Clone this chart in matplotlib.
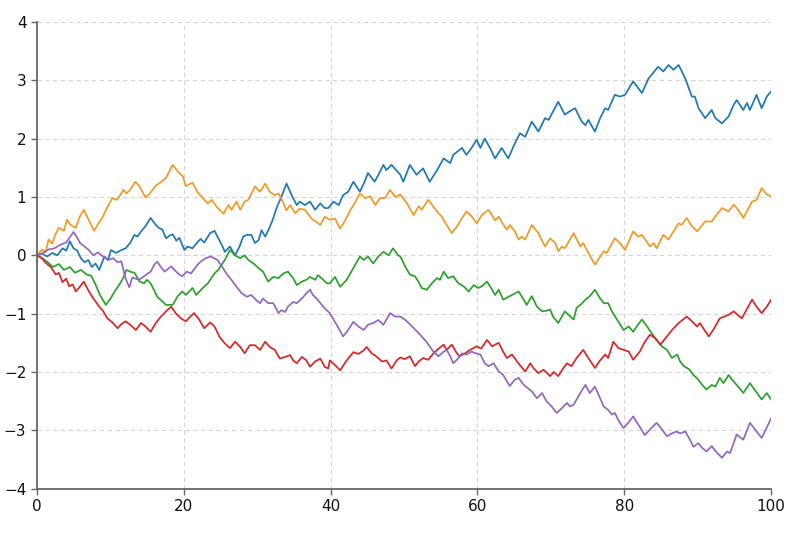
import matplotlib
matplotlib.use("Agg")
import matplotlib.pyplot as plt

blue_x = [0,0.7,1.4,2.1,2.8,3.5,4.0,4.5,5.0,5.5,6.0,6.5,7.0,7.5,8.0,8.5,9.2,9.7,10.1,10.8,11.5,12.1,12.7,13.3,13.7,14.2,14.8,15.5,16.2,16.6,17.1,17.6,18.1,18.5,19.0,19.4,20.1,20.5,21.2,21.7,22.3,22.8,23.6,24.2,24.8,25.3,25.6,26.3,27.0,27.6,28.1,28.6,29.2,29.7,30.2,30.6,31.1,31.6,32.1,32.7,33.3,34.0,34.7,35.4,35.8,36.5,37.2,37.9,38.6,39.2,39.7,40.4,41.1,41.7,42.4,43.1,44.0,44.6,45.1,46.0,46.6,47.2,47.6,48.3,49.0,49.5,49.9,50.8,51.7,52.6,53.5,54.5,55.4,56.3,56.7,57.3,57.9,58.5,59.2,59.9,60.4,61.0,61.7,62.4,63.3,64.2,65.1,65.8,66.5,67.4,68.3,69.2,69.7,70.4,71.0,71.9,72.6,73.3,74.2,74.7,75.1,76.0,76.7,77.4,77.8,78.7,79.4,80.1,81.2,82.4,83.3,83.7,84.6,85.3,86.0,86.7,87.4,88.3,89.2,89.6,90.1,90.6,91.0,91.9,92.4,93.3,94.2,94.9,95.3,96.2,96.7,97.1,98.0,98.7,99.4,100]
blue_y = [0,0.03,-0.02,0.04,0.0,0.12,0.08,0.24,0.12,0.08,-0.05,-0.12,-0.08,-0.2,-0.14,-0.25,-0.02,-0.08,0.09,0.04,0.09,0.12,0.21,0.35,0.32,0.41,0.5,0.64,0.52,0.47,0.44,0.29,0.34,0.36,0.25,0.3,0.09,0.15,0.12,0.2,0.28,0.22,0.38,0.42,0.27,0.15,0.06,0.15,0.0,0.15,0.32,0.35,0.35,0.21,0.26,0.43,0.32,0.45,0.6,0.83,1.0,1.23,1.03,0.86,0.92,0.86,0.92,0.78,0.89,0.81,0.81,0.92,0.86,1.03,1.09,1.26,1.09,1.25,1.41,1.26,1.4,1.55,1.46,1.55,1.45,1.38,1.26,1.55,1.38,1.49,1.26,1.46,1.66,1.58,1.72,1.78,1.84,1.72,1.84,1.98,1.84,2.0,1.84,1.66,1.84,1.66,1.92,2.09,2.03,2.29,2.12,2.35,2.32,2.49,2.63,2.41,2.47,2.52,2.29,2.23,2.32,2.12,2.35,2.52,2.49,2.75,2.72,2.75,2.98,2.78,3.03,3.09,3.23,3.15,3.26,3.18,3.26,3.03,2.72,2.72,2.52,2.43,2.35,2.49,2.35,2.26,2.38,2.58,2.66,2.49,2.61,2.49,2.75,2.52,2.72,2.81]

orange_x = [0,0.7,1.2,1.6,2.1,2.5,3.0,3.7,4.1,4.6,5.3,5.8,6.4,7.1,7.8,8.4,8.9,9.5,10.3,10.9,11.4,11.8,12.2,12.7,13.4,14.0,14.8,15.4,16.1,16.5,17.0,17.6,18.5,19.3,19.9,20.3,20.6,21.2,21.9,22.6,23.3,23.8,24.5,25.4,26.1,26.5,27.2,27.7,28.3,28.8,29.7,30.4,31.1,31.7,32.4,32.9,33.3,34.0,34.5,35.2,35.8,36.5,37.4,38.6,39.2,39.9,40.6,41.3,42.0,42.6,43.3,44.0,44.7,45.4,46.1,46.7,47.4,48.1,48.8,49.5,50.4,51.3,52.0,52.4,53.3,54.5,55.1,55.8,56.5,57.2,57.8,58.5,59.2,59.9,60.6,61.5,62.4,62.9,63.4,64.0,64.4,65.1,65.6,66.0,66.5,67.4,68.3,69.2,69.9,70.6,71.0,71.5,71.9,73.1,74.0,74.4,75.1,76.0,77.2,77.6,78.7,79.4,80.1,81.2,81.9,82.4,83.5,84.0,84.4,85.3,86.0,86.7,87.4,87.8,88.5,89.2,89.9,90.5,91.0,91.9,92.6,93.3,94.2,94.9,95.5,96.2,97.4,98.0,98.7,99.4,100]
orange_y = [0,0.1,0.05,0.27,0.2,0.35,0.47,0.42,0.61,0.52,0.47,0.65,0.78,0.6,0.42,0.55,0.64,0.8,0.98,0.95,1.04,1.12,1.06,1.12,1.26,1.18,0.99,1.06,1.18,1.22,1.26,1.33,1.55,1.42,1.35,1.18,1.21,1.24,1.08,0.98,0.89,0.95,0.83,0.71,0.86,0.78,0.92,0.78,0.92,0.95,1.18,1.09,1.23,1.09,1.03,1.06,0.97,0.77,0.86,0.72,0.8,0.78,0.63,0.52,0.66,0.61,0.63,0.46,0.6,0.75,0.9,1.06,0.98,1.01,0.86,0.98,0.98,1.12,1.0,1.04,0.89,0.69,0.84,0.78,0.95,0.75,0.67,0.52,0.38,0.49,0.62,0.75,0.67,0.55,0.69,0.78,0.6,0.66,0.55,0.44,0.52,0.41,0.27,0.32,0.27,0.52,0.38,0.15,0.29,0.21,0.07,0.15,0.12,0.38,0.15,0.21,0.04,-0.16,0.07,0.04,0.29,0.21,0.09,0.41,0.32,0.35,0.15,0.21,0.12,0.35,0.27,0.41,0.55,0.52,0.64,0.5,0.41,0.5,0.58,0.58,0.7,0.81,0.75,0.87,0.78,0.64,0.92,0.95,1.15,1.04,1.01]

green_x = [0,0.7,1.5,2.2,3.0,3.7,4.5,5.2,6.0,6.8,7.4,8.0,8.6,9.4,10.0,10.6,11.2,11.8,12.2,12.7,13.3,14.0,14.6,15.0,15.5,16.4,17.0,17.6,18.5,19.2,19.8,20.3,21.2,21.7,22.6,23.3,23.6,24.2,24.7,25.6,26.3,27.0,27.7,28.3,28.8,29.5,30.2,30.8,31.5,32.2,32.9,33.6,34.2,34.9,35.4,36.1,36.7,37.2,37.9,38.3,39.0,39.5,39.9,40.6,41.3,42.2,43.1,44.0,44.5,45.1,45.8,46.5,47.2,47.9,48.5,49.2,49.5,50.2,50.8,51.5,52.0,52.4,53.1,53.8,54.5,54.9,55.4,56.0,56.7,57.4,58.1,58.8,59.5,60.1,60.6,61.3,62.0,62.4,62.9,63.5,64.1,64.7,65.6,66.3,66.7,67.4,68.1,68.8,69.4,69.9,70.3,71.0,71.5,71.9,72.5,73.1,73.5,74.1,74.7,75.3,76.0,76.6,77.2,77.8,78.3,79.1,79.9,80.6,81.2,81.8,82.4,83.1,83.7,84.4,85.1,85.8,86.5,87.2,87.6,88.1,88.8,89.4,90.0,90.6,91.2,91.9,92.4,93.0,93.5,94.2,94.8,95.5,96.2,97.1,97.9,98.7,99.4,100]
green_y = [0,-0.05,-0.12,-0.2,-0.15,-0.25,-0.2,-0.3,-0.25,-0.33,-0.35,-0.5,-0.68,-0.85,-0.75,-0.62,-0.51,-0.38,-0.25,-0.28,-0.3,-0.45,-0.48,-0.42,-0.48,-0.71,-0.78,-0.85,-0.85,-0.7,-0.62,-0.68,-0.56,-0.68,-0.56,-0.48,-0.42,-0.31,-0.25,-0.08,0.09,0.0,-0.05,0.0,-0.08,-0.14,-0.22,-0.28,-0.45,-0.37,-0.39,-0.31,-0.28,-0.39,-0.51,-0.45,-0.42,-0.37,-0.42,-0.34,-0.42,-0.48,-0.48,-0.37,-0.54,-0.42,-0.22,-0.02,-0.08,-0.02,-0.14,-0.02,0.06,0.0,0.12,0.0,-0.02,-0.2,-0.33,-0.36,-0.46,-0.56,-0.59,-0.48,-0.39,-0.42,-0.28,-0.39,-0.36,-0.48,-0.53,-0.62,-0.51,-0.56,-0.53,-0.45,-0.59,-0.68,-0.59,-0.76,-0.72,-0.68,-0.62,-0.76,-0.85,-0.7,-0.88,-0.96,-0.95,-0.93,-1.05,-1.16,-1.05,-0.96,-1.03,-1.1,-0.9,-0.84,-0.76,-0.7,-0.59,-0.72,-0.82,-0.82,-0.96,-1.12,-1.28,-1.22,-1.31,-1.2,-1.1,-1.22,-1.33,-1.45,-1.56,-1.62,-1.76,-1.7,-1.82,-1.9,-1.95,-2.05,-2.12,-2.22,-2.3,-2.22,-2.25,-2.1,-2.19,-2.05,-2.15,-2.25,-2.36,-2.19,-2.33,-2.47,-2.36,-2.47]

red_x = [0,0.7,1.2,1.9,2.6,3.0,3.5,4.0,4.4,4.9,5.3,5.8,6.4,7.1,7.6,8.5,9.0,9.6,10.3,11.0,11.5,12.1,12.8,13.5,14.2,14.8,15.5,16.2,16.9,17.6,18.3,18.9,19.6,20.3,20.9,21.4,22.1,22.8,23.6,24.2,24.9,25.6,26.3,27.0,27.7,28.3,29.0,29.7,30.4,31.1,31.7,32.4,33.1,33.8,34.5,34.9,35.4,36.1,36.7,37.2,37.9,38.6,39.2,39.7,39.9,40.6,41.3,42.2,43.1,43.8,44.5,44.9,45.6,46.3,47.0,47.6,48.3,49.0,49.5,50.1,50.8,51.5,52.0,52.6,53.3,54.0,54.7,55.4,55.8,56.5,57.2,57.6,58.3,59.0,59.9,60.5,61.3,62.0,62.4,62.9,63.4,64.0,64.7,65.4,65.9,66.5,67.2,67.6,68.3,69.0,69.5,69.9,70.4,71.0,71.6,72.2,72.8,73.5,74.4,75.1,76.0,76.7,77.4,77.8,78.5,79.2,79.9,80.6,81.2,82.1,82.8,83.5,84.2,84.9,85.8,86.5,87.4,88.0,88.5,89.2,89.9,90.3,90.9,91.5,92.1,93.0,93.6,94.2,94.9,95.4,96.0,96.7,97.4,98.0,98.7,99.4,100]
red_y = [0,-0.05,-0.13,-0.2,-0.33,-0.3,-0.46,-0.4,-0.53,-0.5,-0.62,-0.55,-0.45,-0.62,-0.72,-0.88,-0.95,-1.08,-1.15,-1.25,-1.18,-1.13,-1.2,-1.28,-1.16,-1.22,-1.31,-1.16,-1.05,-0.96,-0.88,-0.99,-1.08,-1.13,-1.05,-0.99,-1.1,-1.25,-1.15,-1.22,-1.4,-1.51,-1.59,-1.48,-1.57,-1.68,-1.54,-1.54,-1.62,-1.48,-1.57,-1.62,-1.77,-1.74,-1.71,-1.8,-1.85,-1.74,-1.8,-1.91,-1.82,-1.77,-1.91,-1.94,-1.8,-1.88,-1.97,-1.8,-1.66,-1.69,-1.63,-1.57,-1.68,-1.74,-1.82,-1.8,-1.94,-1.8,-1.75,-1.78,-1.73,-1.9,-1.82,-1.76,-1.79,-1.68,-1.6,-1.53,-1.62,-1.53,-1.68,-1.73,-1.68,-1.62,-1.56,-1.6,-1.45,-1.56,-1.53,-1.5,-1.63,-1.76,-1.7,-1.82,-1.9,-1.99,-1.85,-1.93,-2.02,-1.96,-2.02,-2.07,-2.0,-2.07,-1.95,-1.85,-1.9,-1.76,-1.62,-1.76,-1.93,-1.8,-1.7,-1.76,-1.48,-1.59,-1.62,-1.65,-1.79,-1.65,-1.48,-1.36,-1.42,-1.53,-1.39,-1.28,-1.16,-1.1,-1.05,-1.13,-1.22,-1.16,-1.28,-1.39,-1.28,-1.08,-1.05,-1.02,-0.96,-1.02,-1.08,-0.92,-0.76,-0.88,-0.99,-0.88,-0.76]

purple_x = [0,0.8,1.6,2.4,3.2,4.0,4.6,5.0,5.5,5.9,6.5,7.0,7.7,8.3,9.0,9.7,10.4,11.0,11.5,12.1,12.6,13.0,13.9,14.4,14.9,15.5,16.0,16.4,16.9,17.4,18.3,18.9,19.4,19.8,20.4,21.0,21.9,22.4,23.0,23.7,24.6,25.2,25.8,26.5,27.2,27.9,28.6,29.2,29.9,30.4,30.8,31.5,32.2,32.9,33.3,33.8,34.2,34.9,35.4,36.1,36.7,37.2,37.6,38.3,39.2,39.9,40.6,41.1,41.7,42.4,43.1,43.8,44.5,45.1,45.8,46.5,47.2,48.1,48.8,49.5,50.1,50.8,51.5,52.2,52.9,53.5,54.0,54.7,55.3,55.8,56.3,56.7,57.2,57.9,58.5,59.2,59.8,60.4,61.0,61.5,62.2,62.9,63.5,64.4,65.1,65.6,66.3,66.9,67.4,68.1,68.8,69.4,70.1,70.8,71.5,72.2,72.6,73.1,74.0,74.7,75.3,76.0,76.6,77.2,77.8,78.3,78.7,79.3,79.9,80.6,81.2,82.0,82.8,83.6,84.4,85.1,85.8,86.5,87.1,87.6,88.3,88.9,89.4,90.1,90.6,91.2,91.9,92.6,93.3,94.0,94.4,95.3,96.2,97.1,97.9,98.7,99.4,100]
purple_y = [0,0.04,0.1,0.12,0.18,0.22,0.33,0.4,0.3,0.21,0.15,0.1,0.0,0.05,-0.02,-0.08,-0.05,-0.12,-0.1,-0.4,-0.55,-0.38,-0.42,-0.38,-0.33,-0.28,-0.16,-0.11,-0.2,-0.28,-0.19,-0.27,-0.33,-0.36,-0.28,-0.31,-0.16,-0.1,-0.05,-0.02,-0.08,-0.19,-0.31,-0.42,-0.54,-0.65,-0.71,-0.68,-0.77,-0.82,-0.74,-0.82,-0.82,-0.99,-0.94,-0.97,-0.88,-0.8,-0.82,-0.74,-0.65,-0.59,-0.68,-0.77,-0.91,-0.99,-1.14,-1.25,-1.39,-1.28,-1.14,-1.22,-1.28,-1.19,-1.16,-1.11,-1.19,-0.99,-1.05,-1.05,-1.1,-1.18,-1.27,-1.36,-1.46,-1.56,-1.65,-1.73,-1.66,-1.62,-1.73,-1.85,-1.79,-1.68,-1.7,-1.65,-1.68,-1.7,-1.85,-1.9,-1.85,-1.99,-2.05,-2.24,-2.13,-2.1,-2.22,-2.28,-2.33,-2.45,-2.36,-2.5,-2.59,-2.7,-2.62,-2.53,-2.59,-2.56,-2.36,-2.22,-2.36,-2.25,-2.42,-2.59,-2.65,-2.73,-2.7,-2.85,-2.96,-2.86,-2.76,-2.92,-3.08,-2.97,-2.87,-2.98,-3.1,-3.05,-3.02,-3.05,-3.02,-3.15,-3.28,-3.22,-3.3,-3.36,-3.27,-3.38,-3.47,-3.36,-3.39,-3.07,-3.16,-2.87,-3.0,-3.13,-2.95,-2.79]

x_ticks = [0, 20, 40, 60, 80, 100]
y_ticks = [-4, -3, -2, -1, 0, 1, 2, 3, 4]

series = [
    (blue_x, blue_y, "#1f77b4"),
    (orange_x, orange_y, "#f09a26"),
    (green_x, green_y, "#2ca02c"),
    (red_x, red_y, "#d62728"),
    (purple_x, purple_y, "#9467bd"),
]

fig = plt.figure(figsize=(8.0, 5.33), dpi=100)
ax = fig.add_axes([0.046, 0.083, 0.918, 0.876])
for xs, ys, c in series:
    ax.plot(xs, ys, color=c, linewidth=1.25)

ax.set_xlim(0, 100)
ax.set_ylim(-4, 4)
ax.set_xticks(x_ticks)
ax.set_yticks(y_ticks)
ax.grid(True, linestyle=(0, (4, 3)), color="#d4d4d4", linewidth=0.8)
ax.set_axisbelow(True)
for s in ["top", "right"]:
    ax.spines[s].set_visible(False)
for s in ["left", "bottom"]:
    ax.spines[s].set_color("#666666")
    ax.spines[s].set_linewidth(1.3)
ax.tick_params(colors="#666666", labelcolor="#111111", labelsize=11, length=4, width=1)

fig.savefig("out.png", dpi=100)
